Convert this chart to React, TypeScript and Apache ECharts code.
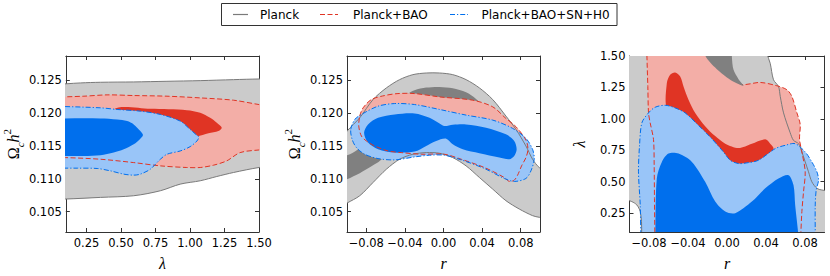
import React, { useEffect, useRef } from 'react';
import * as echarts from 'echarts';

type Pt = [number, number];

// ---------- tick values ----------
const lambdaTicks = [0.25, 0.5, 0.75, 1.0, 1.25, 1.5];
const omegaTicks = [0.105, 0.11, 0.115, 0.12, 0.125];
const rTicks = [-0.08, -0.04, 0, 0.04, 0.08];

// ---------- axis ranges ----------
const lambdaRange: Pt = [0.1, 1.5];
const omegaRange: Pt = [0.1019, 0.1287];
const rRange: Pt = [-0.1, 0.1];

const legendLabels = ['Planck', 'Planck+BAO', 'Planck+BAO+SN+H0'];

// ---------- Panel 1: (lambda, Omega_c h^2) ----------
const p1Planck95: Pt[] = [
  [-0.05, 0.12434], [0.0, 0.12434], [0.207, 0.1246], [0.351, 0.1247], [0.592, 0.12475], [0.833, 0.12485],
  [1.074, 0.12495], [1.315, 0.1251], [1.5, 0.1252], [1.6, 0.1252], [1.65, 0.1252],
  [1.65, 0.11187], [1.6, 0.11187], [1.5, 0.11172], [1.315, 0.11096], [1.194, 0.11035], [1.074, 0.1097],
  [0.929, 0.10919], [0.785, 0.10818], [0.592, 0.10742], [0.351, 0.10717], [0.098, 0.10692], [0.0, 0.10692], [-0.05, 0.10692],
];
const p1Bao95: Pt[] = [
  [-0.05, 0.12242], [0.0, 0.12242], [0.231, 0.12258], [0.399, 0.12278], [0.592, 0.12268], [0.833, 0.12258],
  [1.074, 0.12232], [1.315, 0.12197], [1.5, 0.12131], [1.6, 0.12106], [1.65, 0.12106],
  [1.65, 0.11449], [1.6, 0.11449], [1.5, 0.11439], [1.363, 0.11399], [1.266, 0.11273], [1.17, 0.11207],
  [1.074, 0.11172], [0.977, 0.11172], [0.785, 0.11197], [0.592, 0.11247], [0.351, 0.11298], [0.098, 0.11323],
  [0.0, 0.11323], [-0.05, 0.11323],
];
const p1Bao68: Pt[] = [
  [0.4475, 0.12056], [0.7124, 0.12066], [0.9774, 0.12045], [1.0737, 0.12005], [1.146, 0.11929], [1.1941, 0.11854],
  [1.2303, 0.11778], [1.2062, 0.11727], [1.1339, 0.11692], [1.0496, 0.11641], [0.9774, 0.11611], [0.7124, 0.11591],
  [0.4475, 0.11626],
];
const p1Sn95: Pt[] = [
  [-0.05, 0.12106], [0.0, 0.12106], [0.351, 0.12081], [0.472, 0.12056], [0.64, 0.1203], [0.785, 0.1198],
  [0.929, 0.11879], [1.001, 0.11753], [1.05, 0.11662], [1.064, 0.11636], [1.05, 0.11576], [1.001, 0.1149],
  [0.929, 0.11424], [0.833, 0.11374], [0.785, 0.11298], [0.712, 0.11146], [0.64, 0.11071], [0.592, 0.11056],
  [0.52, 0.11071], [0.423, 0.11121], [0.327, 0.11157], [0.183, 0.11162], [0.0, 0.11162], [-0.05, 0.11162],
];
const p1Sn68: Pt[] = [
  [-0.05, 0.11919], [0.0, 0.11919], [0.351, 0.11919], [0.472, 0.11904], [0.544, 0.11879], [0.592, 0.11828],
  [0.64, 0.11727], [0.659, 0.11667], [0.64, 0.11611], [0.592, 0.11525], [0.52, 0.11449], [0.447, 0.11399],
  [0.351, 0.11359], [0.231, 0.11348], [0.0, 0.11348], [-0.05, 0.11348],
];

// ---------- Panel 2: (r, Omega_c h^2) ----------
const p2Planck95: Pt[] = [
  [-0.1178, 0.11348], [-0.1092, 0.11525], [-0.0999, 0.11727], [-0.0868, 0.11929], [-0.073, 0.12207],
  [-0.0592, 0.12384], [-0.0455, 0.1251], [-0.0317, 0.12586], [-0.0179, 0.12611], [-0.0041, 0.12611],
  [0.0096, 0.12586], [0.0234, 0.1251], [0.0372, 0.12384], [0.051, 0.12207], [0.0647, 0.11955],
  [0.0751, 0.11753], [0.0854, 0.115], [0.0923, 0.11298], [0.0992, 0.11172], [0.1061, 0.11121], [0.1164, 0.11071],
  [0.1164, 0.10389], [0.1061, 0.10404], [0.0992, 0.10414], [0.0923, 0.10439], [0.0785, 0.1054],
  [0.0647, 0.10667], [0.051, 0.10843], [0.0372, 0.1102], [0.0234, 0.11197], [0.0096, 0.11323],
  [-0.0041, 0.11389], [-0.0179, 0.11399], [-0.0317, 0.11374], [-0.0455, 0.11298], [-0.0592, 0.11146],
  [-0.073, 0.10944], [-0.0868, 0.10742], [-0.0999, 0.10631], [-0.1092, 0.1055], [-0.1178, 0.1048],
];
const p2Planck68: Pt[] = [
  [-0.1178, 0.11323], [-0.0999, 0.11359], [-0.0885, 0.11449], [-0.0799, 0.11601], [-0.0661, 0.11955],
  [-0.0523, 0.12157], [-0.0386, 0.12283], [-0.03, 0.12348], [-0.0179, 0.12389], [-0.0041, 0.12399],
  [0.0096, 0.12379], [0.0234, 0.12318], [0.0337, 0.12217], [0.0406, 0.12106], [0.0441, 0.1203],
  [0.0406, 0.1198], [0.0303, 0.1198], [0.0165, 0.11955], [0.0028, 0.11929], [-0.011, 0.11879],
  [-0.0248, 0.11803], [-0.0386, 0.11652], [-0.0523, 0.11449], [-0.0661, 0.11273], [-0.073, 0.11207],
  [-0.0868, 0.11086], [-0.0999, 0.10995], [-0.1178, 0.10894],
];
const p2Bao95: Pt[] = [
  [-0.0868, 0.11955], [-0.0833, 0.12081], [-0.0747, 0.12207], [-0.061, 0.12268], [-0.0472, 0.12298],
  [-0.03, 0.12298], [-0.0041, 0.12247], [0.0303, 0.12197], [0.051, 0.12096], [0.0647, 0.11919],
  [0.0751, 0.11793], [0.0854, 0.11591], [0.0875, 0.11449], [0.0854, 0.11323], [0.0809, 0.11197],
  [0.0768, 0.11056], [0.0733, 0.1098], [0.0682, 0.1096], [0.063, 0.1102], [0.0424, 0.11172],
  [0.0183, 0.11298], [0.001, 0.11374], [-0.0231, 0.11374], [-0.0437, 0.11399], [-0.0575, 0.11424],
  [-0.0713, 0.115], [-0.0799, 0.11576], [-0.0851, 0.11652], [-0.0878, 0.11803],
];
const p2Sn95: Pt[] = [
  [-0.0961, 0.11753], [-0.0919, 0.11904], [-0.0851, 0.1198], [-0.0678, 0.12106], [-0.0506, 0.12146],
  [-0.03, 0.12131], [-0.0041, 0.12056], [0.0234, 0.1197], [0.051, 0.11894], [0.0716, 0.11768],
  [0.0854, 0.11616], [0.0923, 0.11449], [0.094, 0.11298], [0.0906, 0.11121], [0.0854, 0.11005],
  [0.0733, 0.1096], [0.063, 0.11005], [0.0424, 0.11157], [0.0183, 0.11288], [0.001, 0.11359],
  [-0.0145, 0.11359], [-0.03, 0.11333], [-0.0506, 0.11288], [-0.0678, 0.11308], [-0.0816, 0.11374],
  [-0.0902, 0.11475], [-0.0947, 0.11601],
];
const p2Sn68: Pt[] = [
  [-0.0823, 0.11702], [-0.0782, 0.11828], [-0.0678, 0.11929], [-0.0506, 0.1198], [-0.03, 0.11995],
  [-0.0145, 0.11929], [-0.0041, 0.11843], [0.001, 0.11803], [0.0096, 0.11823], [0.0234, 0.11828],
  [0.0441, 0.11778], [0.0647, 0.11677], [0.0733, 0.11576], [0.0758, 0.11449], [0.0733, 0.11348],
  [0.0682, 0.11298], [0.0579, 0.11323], [0.0372, 0.11389], [0.02, 0.11449], [0.0096, 0.11525],
  [0.0028, 0.11611], [-0.0076, 0.11576], [-0.0179, 0.115], [-0.03, 0.11414], [-0.0506, 0.11399],
  [-0.0678, 0.11449], [-0.0782, 0.11551],
];

// ---------- Panel 3: (r, lambda) ----------
const p3Planck95: Pt[] = [
  [-0.115, 1.6], [0.03, 1.6], [0.0409, 1.56], [0.0409, 1.5213], [0.0443, 1.4423], [0.0477, 1.3107],
  [0.0528, 1.258], [0.0546, 1.1791], [0.058, 1.0475], [0.0648, 0.8894], [0.0682, 0.8289], [0.0734, 0.8025],
  [0.0768, 0.7367], [0.0802, 0.6578], [0.0836, 0.5788], [0.087, 0.4997], [0.0922, 0.4471], [0.0973, 0.4339],
  [0.105, 0.425], [0.115, 0.42], [0.115, 0.0], [-0.0873, 0.0], [-0.0875, 0.08], [-0.0877, 0.1838],
  [-0.089, 0.2627], [-0.0925, 0.3154], [-0.0976, 0.3418], [-0.1027, 0.3549], [-0.108, 0.36], [-0.115, 0.36],
];
const p3Planck68: Pt[] = [
  [-0.0241, 1.6], [-0.0224, 1.5055], [-0.0172, 1.4476], [-0.0104, 1.3949], [-0.0001, 1.3292],
  [0.0084, 1.2896], [0.017, 1.2633], [0.0118, 1.316], [0.0067, 1.3897], [0.005, 1.495], [0.005, 1.6],
];
const p3Bao95: Pt[] = [
  [-0.0822, 1.6], [-0.05, 1.6], [-0.0234, 1.6], [-0.0213, 1.5055], [-0.0097, 1.416], [0.0033, 1.3318],
  [0.0152, 1.2738], [0.034, 1.2896], [0.0511, 1.2633], [0.0614, 1.2317], [0.0665, 1.1791], [0.0717, 1.0475],
  [0.0751, 0.9552], [0.0744, 0.8368], [0.0768, 0.7367], [0.0802, 0.5788], [0.0785, 0.4207], [0.0768, 0.2627],
  [0.0757, 0.08], [0.0755, 0.0], [-0.0737, 0.0], [-0.074, 0.08], [-0.0744, 0.3681], [-0.0747, 0.6315],
  [-0.0754, 0.8368], [-0.0788, 0.9684], [-0.0805, 1.0475], [-0.0812, 1.258], [-0.0822, 1.5213],
];
const p3Bao68: Pt[] = [
  [-0.0617, 1.0791], [-0.0617, 1.2843], [-0.0583, 1.3502], [-0.0532, 1.3686], [-0.048, 1.337],
  [-0.0446, 1.258], [-0.0395, 1.1528], [-0.0326, 1.0475], [-0.0224, 0.9421], [-0.0121, 0.8631],
  [-0.0018, 0.8025], [0.0118, 0.7683], [0.0255, 0.8025], [0.0392, 0.8368], [0.0443, 0.8025],
  [0.0477, 0.7631], [0.0409, 0.6841], [0.0272, 0.6315], [0.0101, 0.6183], [-0.007, 0.7104],
  [-0.0275, 0.8684], [-0.048, 1.0],
];
const p3Sn95: Pt[] = [
  [-0.088, 0.0], [-0.0884, 0.09], [-0.089, 0.3154], [-0.0908, 0.5788], [-0.0897, 0.7894], [-0.0873, 0.9684],
  [-0.0805, 1.0475], [-0.0737, 1.0922], [-0.0634, 1.108], [-0.0532, 1.087], [-0.0429, 1.0475],
  [-0.0309, 0.9605], [-0.0172, 0.8552], [-0.0036, 0.7367], [0.0033, 0.6709], [0.0118, 0.6446],
  [0.0204, 0.6499], [0.0323, 0.6709], [0.0494, 0.7631], [0.0597, 0.7894], [0.0699, 0.8025],
  [0.0802, 0.7367], [0.087, 0.6578], [0.0922, 0.5788], [0.0939, 0.5129], [0.0915, 0.4339],
  [0.0905, 0.3154], [0.0905, 0.09], [0.0905, 0.0],
];
const p3Sn68: Pt[] = [
  [-0.0737, 0.0], [-0.0735, 0.09], [-0.072, 0.5261], [-0.0668, 0.6578], [-0.06, 0.7236], [-0.0497, 0.7236],
  [-0.036, 0.6578], [-0.0224, 0.4997], [-0.0121, 0.3418], [-0.0018, 0.2627], [0.0084, 0.2496],
  [0.0255, 0.3418], [0.0392, 0.4471], [0.0528, 0.5261], [0.0631, 0.5524], [0.0682, 0.4734],
  [0.0699, 0.3154], [0.073, 0.09], [0.0734, 0.0],
];

// ---------- styles ----------
const COL = {
  planckIn: '#808080', planckOut: '#cbcbcb', planckLine: '#7a7a7a',
  baoIn: '#e03424', baoOut: '#f3aea7', baoLine: '#e03424',
  snIn: '#006fed', snOut: '#99c5f8', snLine: '#006fed',
};
const DASH_BAO = [5, 2.5];
const DASH_SN = [5, 2, 1.2, 2];
const SMOOTH = 0.3;
const AXIS_COLOR = '#333';
const TICK_FONT = 'DejaVu Sans';
const MATH_FONT = 'Liberation Serif';

const fmtFixed = (d: number) => (v: number) => (v < 0 ? '\u2212' : '') + Math.abs(v).toFixed(d);

function fill(k: number, pts: Pt[], color: string, center: Pt, z = 2) {
  return {
    type: 'custom', coordinateSystem: 'cartesian2d', xAxisIndex: k * 2, yAxisIndex: k * 2,
    clip: true, silent: true, z, data: [center],
    renderItem: (_p: any, api: any) => ({
      type: 'polygon',
      shape: { points: pts.map((p) => api.coord(p)), smooth: SMOOTH },
      style: { fill: color, stroke: 'none' },
    }),
  };
}
function outline(k: number, pts: Pt[], color: string, dash: number[] | null, center: Pt, z = 3) {
  return {
    type: 'custom', coordinateSystem: 'cartesian2d', xAxisIndex: k * 2, yAxisIndex: k * 2,
    clip: true, silent: true, z, data: [center],
    renderItem: (_p: any, api: any) => ({
      type: 'polygon',
      shape: { points: pts.map((p) => api.coord(p)), smooth: SMOOTH },
      style: { fill: 'none', stroke: color, lineWidth: 1, lineDash: dash || undefined },
    }),
  };
}

const mathRich = {
  o: { fontFamily: MATH_FONT, fontSize: 16, lineHeight: 24, color: '#000' },
  i: { fontFamily: MATH_FONT, fontStyle: 'italic', fontSize: 16, lineHeight: 24, color: '#000' },
  s: { fontFamily: MATH_FONT, fontStyle: 'italic', fontSize: 11, lineHeight: 12, verticalAlign: 'bottom', color: '#000' },
  p: { fontFamily: MATH_FONT, fontSize: 11, lineHeight: 12, verticalAlign: 'top', color: '#000' },
};

function xAxes(grid: number, range: Pt, ticks: number[], fmt: (v: number) => string, name: string) {
  const common = {
    type: 'value', gridIndex: grid, min: range[0], max: range[1],
    axisLine: { show: true, onZero: false, lineStyle: { color: AXIS_COLOR, width: 1 } },
    axisTick: { show: true, inside: true, length: 4, customValues: ticks, lineStyle: { color: AXIS_COLOR } },
    splitLine: { show: false },
  };
  return [
    {
      ...common, position: 'bottom',
      axisLabel: { show: true, customValues: ticks, formatter: fmt, margin: 5, fontSize: 11.5, fontFamily: TICK_FONT, color: '#000' },
      name, nameLocation: 'middle', nameGap: 19,
      nameTextStyle: { rich: mathRich },
    },
    { ...common, position: 'top', axisLabel: { show: false } },
  ];
}
function yAxes(grid: number, range: Pt, ticks: number[], fmt: (v: number) => string, name: string, nameGap: number) {
  const common = {
    type: 'value', gridIndex: grid, min: range[0], max: range[1],
    axisLine: { show: true, onZero: false, lineStyle: { color: AXIS_COLOR, width: 1 } },
    axisTick: { show: true, inside: true, length: 4, customValues: ticks, lineStyle: { color: AXIS_COLOR } },
    splitLine: { show: false },
  };
  return [
    {
      ...common, position: 'left',
      axisLabel: { show: true, customValues: ticks, formatter: fmt, margin: 4, fontSize: 11.5, fontFamily: TICK_FONT, color: '#000' },
      name, nameLocation: 'middle', nameGap,
      nameTextStyle: { rich: mathRich },
    },
    { ...common, position: 'right', axisLabel: { show: false } },
  ];
}

const OMEGA_NAME = '{o|Ω}{s|c}{i|h}{p|2}';

export default function App() {
  const ref = useRef<HTMLDivElement>(null);
  useEffect(() => {
    if (!ref.current) return;
    const chart = echarts.init(ref.current, undefined, { renderer: 'svg' });
    const c1: Pt = [0.8, 0.115];
    const c2: Pt = [0, 0.115];
    const c3: Pt = [0, 0.8];

    const series: any[] = [
      // panel 1
      fill(0, p1Planck95, COL.planckOut, c1),
      fill(0, p1Bao95, COL.baoOut, c1),
      fill(0, p1Bao68, COL.baoIn, c1),
      fill(0, p1Sn95, COL.snOut, c1),
      fill(0, p1Sn68, COL.snIn, c1),
      outline(0, p1Planck95, COL.planckLine, null, c1),
      outline(0, p1Bao95, COL.baoLine, DASH_BAO, c1),
      outline(0, p1Sn95, COL.snLine, DASH_SN, c1),
      // panel 2
      fill(1, p2Planck95, COL.planckOut, c2),
      fill(1, p2Planck68, COL.planckIn, c2),
      fill(1, p2Bao95, COL.baoOut, c2),
      fill(1, p2Sn95, COL.snOut, c2),
      fill(1, p2Sn68, COL.snIn, c2),
      outline(1, p2Planck95, COL.planckLine, null, c2),
      outline(1, p2Bao95, COL.baoLine, DASH_BAO, c2),
      outline(1, p2Sn95, COL.snLine, DASH_SN, c2),
      // panel 3
      fill(2, p3Planck95, COL.planckOut, c3),
      fill(2, p3Bao95, COL.baoOut, c3),
      fill(2, p3Bao68, COL.baoIn, c3),
      fill(2, p3Sn95, COL.snOut, c3),
      fill(2, p3Sn68, COL.snIn, c3),
      outline(2, p3Planck95, COL.planckLine, null, c3),
      outline(2, p3Bao95, COL.baoLine, DASH_BAO, c3),
      outline(2, p3Sn95, COL.snLine, DASH_SN, c3),
      fill(2, p3Planck68, COL.planckIn, c3, 4),
    ];

    const legendY = 14.5;
    const legendItems = [
      { x1: 233, x2: 248, tx: 260, color: COL.planckLine, dash: null },
      { x1: 320, x2: 338, tx: 353, color: COL.baoLine, dash: DASH_BAO },
      { x1: 450, x2: 468, tx: 481.5, color: COL.snLine, dash: DASH_SN },
    ];
    const graphic: any[] = [
      { type: 'rect', z: 10, shape: { x: 221.5, y: 3.5, width: 395.5, height: 22 }, style: { fill: '#fff', stroke: '#333', lineWidth: 1 } },
    ];
    legendItems.forEach((it, i) => {
      graphic.push({ type: 'line', z: 11, shape: { x1: it.x1, y1: legendY, x2: it.x2, y2: legendY }, style: { stroke: it.color, lineWidth: 1.2, lineDash: it.dash || undefined } });
      graphic.push({ type: 'text', z: 11, x: it.tx, y: legendY, style: { text: legendLabels[i], fontSize: 12, fontFamily: TICK_FONT, fill: '#000', verticalAlign: 'middle', align: 'left' } });
    });

    chart.setOption({
      animation: false,
      backgroundColor: '#fff',
      grid: [
        { left: 65, top: 56, width: 194, height: 177 },
        { left: 347, top: 56, width: 193, height: 177 },
        { left: 629.5, top: 56, width: 195, height: 177 },
      ],
      xAxis: [
        ...xAxes(0, lambdaRange, lambdaTicks, fmtFixed(2), '{i|λ}'),
        ...xAxes(1, rRange, rTicks, fmtFixed(2), '{i|r}'),
        ...xAxes(2, rRange, rTicks, fmtFixed(2), '{i|r}'),
      ],
      yAxis: [
        ...yAxes(0, omegaRange, omegaTicks, fmtFixed(3), OMEGA_NAME, 38),
        ...yAxes(1, omegaRange, omegaTicks, fmtFixed(3), OMEGA_NAME, 40),
        ...yAxes(2, lambdaRange, lambdaTicks, fmtFixed(2), '{i|λ}', 38),
      ],
      series,
      graphic,
    });
    return () => chart.dispose();
  }, []);
  return <div ref={ref} style={{ position: 'fixed', left: 0, top: 0, width: 830, height: 276 }} />;
}
